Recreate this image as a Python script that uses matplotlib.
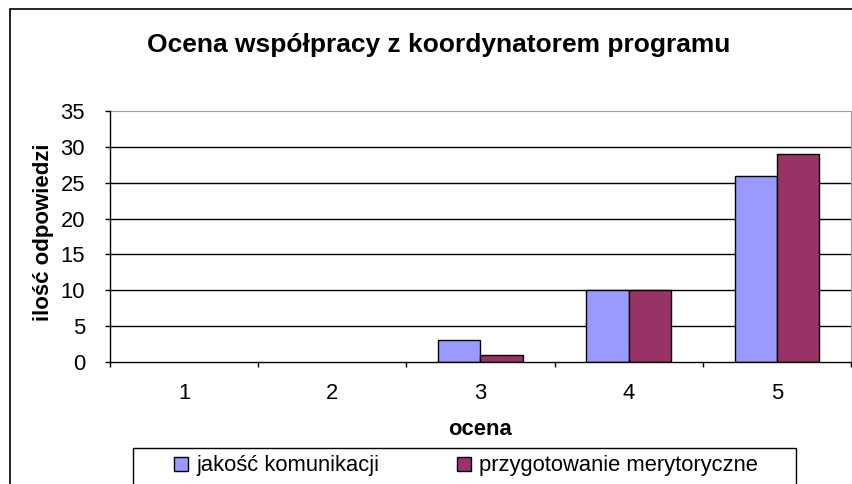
import matplotlib
matplotlib.use("Agg")
import matplotlib.pyplot as plt
from matplotlib.patches import Rectangle
import numpy as np

plt.rcParams['font.family'] = ['Liberation Sans', 'DejaVu Sans']

# data
categories = ['1', '2', '3', '4', '5']
komunikacja = [0, 0, 3, 10, 26]
merytoryczne = [0, 0, 1, 10, 29]
series_names = ['jakość komunikacji', 'przygotowanie merytoryczne']
title = 'Ocena współpracy z koordynatorem programu'

W, H = 853, 484
FS = 15.8
fig = plt.figure(figsize=(W / 100, H / 100), dpi=100)

# outer chart frame (excel style), right/bottom edges fall outside the picture
fig.patches.append(Rectangle((10 / W, -0.1), 1.2, 1 - 9 / H + 0.1, transform=fig.transFigure,
                             fill=False, edgecolor='black', linewidth=1.2))

ax = fig.add_axes([110 / W, 1 - 362 / H, (851 - 110) / W, (362 - 111) / H])

x = np.arange(1, len(categories) + 1)
bw = 1 / 3.5
# empty bars get no outline so nothing shows on the axis line
ax.bar(x - bw / 2, komunikacja, bw, color='#9999FF', edgecolor='black',
       linewidth=[1 if v else 0 for v in komunikacja], label=series_names[0], zorder=3)
ax.bar(x + bw / 2, merytoryczne, bw, color='#993366', edgecolor='black',
       linewidth=[1 if v else 0 for v in merytoryczne], label=series_names[1], zorder=3)

ax.set_xlim(0.5, len(categories) + 0.5)
ax.set_ylim(0, 35)
ax.set_yticks(range(0, 36, 5))
for y in range(5, 35, 5):
    ax.axhline(y, color='black', linewidth=1, zorder=1)

ax.set_xticks(x)
ax.set_xticklabels(categories)
ax.set_xticks(np.arange(0.5, len(categories) + 1), minor=True)
ax.tick_params(axis='x', which='major', length=0, pad=15, labelsize=FS)
ax.tick_params(axis='x', which='minor', length=3.6, direction='out', width=1)
ax.tick_params(axis='y', length=3.6, direction='out', pad=14.4, labelsize=FS, width=1)

for s in ['top', 'right']:
    ax.spines[s].set_color('#a0a0a0')
for s in ['left', 'bottom']:
    ax.spines[s].set_color('black')
    ax.spines[s].set_linewidth(1)
    ax.spines[s].set_zorder(4)

ax.set_xlabel('ocena', fontsize=FS, fontweight='bold', va='center')
ax.xaxis.set_label_coords(0.5, -(430 - 362) / (362 - 111))
ax.set_ylabel('ilość odpowiedzi', fontsize=16, fontweight='bold', va='center')
ax.yaxis.set_label_coords(-(110 - 44) / (851 - 110), 1 - (232 - 111) / (362 - 111))

fig.text(439 / W, 1 - 45 / H, title, ha='center', va='center', fontsize=19, fontweight='bold')

# legend: frame drawn separately, entries placed inside it
fig.patches.append(Rectangle((133 / W, -0.1), (796 - 133) / W, 1 - 448 / H + 0.1,
                             transform=fig.transFigure, fill=False, edgecolor='black',
                             linewidth=1))
leg = fig.legend(loc='center left', bbox_to_anchor=(174 / W, 1 - 466 / H), ncol=2,
                 fontsize=FS, frameon=False, handlelength=0.64, handleheight=0.64,
                 handletextpad=0.37, columnspacing=3.55, borderpad=0, borderaxespad=0)
for h in leg.legend_handles:
    h.set_linewidth(1)
    h.set_edgecolor('black')

fig.savefig('out.png', dpi=100)
